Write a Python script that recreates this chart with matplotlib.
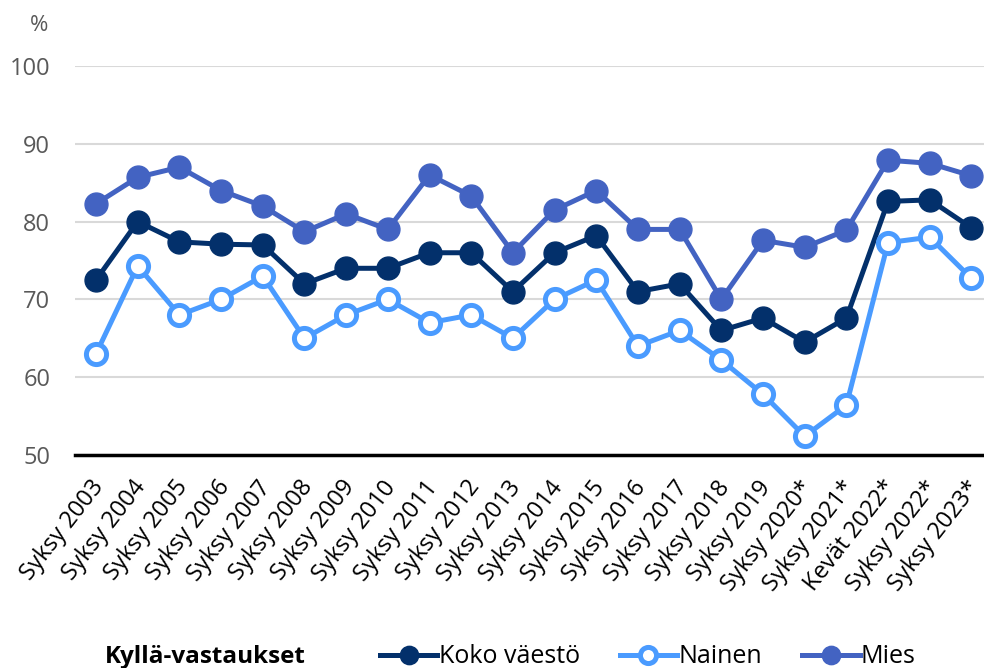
import matplotlib.pyplot as plt
import matplotlib.transforms as mtransforms

plt.rcParams['font.family'] = ['Open Sans', 'DejaVu Sans']

kaudet = ['Syksy 2003', 'Syksy 2004', 'Syksy 2005', 'Syksy 2006', 'Syksy 2007',
          'Syksy 2008', 'Syksy 2009', 'Syksy 2010', 'Syksy 2011', 'Syksy 2012',
          'Syksy 2013', 'Syksy 2014', 'Syksy 2015', 'Syksy 2016', 'Syksy 2017',
          'Syksy 2018', 'Syksy 2019', 'Syksy 2020*', 'Syksy 2021*', 'Kevät 2022*',
          'Syksy 2022*', 'Syksy 2023*']

koko = [72.5, 80, 77.4, 77.1, 77, 72, 74, 74, 76, 76, 71, 76, 78.2, 71, 72,
        66, 67.6, 64.5, 67.6, 82.6, 82.8, 79.2]
nainen = [63, 74.3, 68, 70, 73, 65, 68, 70, 67, 68, 65, 70, 72.5, 64, 66,
          62.2, 57.8, 52.4, 56.4, 77.3, 78, 72.7]
mies = [82.3, 85.7, 87, 84, 82, 78.7, 81, 79, 86, 83.3, 76, 81.5, 84, 79, 79,
        70, 77.6, 76.7, 78.9, 87.9, 87.5, 85.9]

x = range(len(kaudet))

fig = plt.figure(figsize=(9.84, 6.68), dpi=100)
ax = fig.add_axes([0.0764, 0.319, 0.932, 0.582])

ax.plot(x, koko, color='#03306B', lw=3.6, marker='o', ms=16.5, label='Koko väestö', zorder=3)
ax.plot(x, nainen, color='#4A9BFF', lw=3.6, marker='o', ms=14.5, mfc='white',
        mec='#4A9BFF', mew=3.6, label='Nainen', zorder=3)
ax.plot(x, mies, color='#4363C2', lw=3.6, marker='o', ms=16.5, label='Mies', zorder=3)

ax.set_xlim(-0.5, len(kaudet) - 0.5)
ax.set_ylim(50, 100)
ax.set_yticks(range(50, 101, 10))
ax.yaxis.grid(True, color='#d9d9d9', lw=1.5)
ax.set_axisbelow(True)
for s in ['top', 'right', 'left']:
    ax.spines[s].set_visible(False)
ax.spines['bottom'].set_linewidth(2.5)
ax.spines['bottom'].set_color('black')
ax.tick_params(axis='y', length=0, labelsize=17, labelcolor='#595959', pad=18)
ax.tick_params(axis='x', length=0, labelsize=17, pad=14)
ax.set_xticks(list(x))
ax.set_xticklabels(kaudet, rotation=52, ha='right', va='center', rotation_mode='anchor')
# siirretään tekstejä hieman oikealle ja alas
siirto = mtransforms.ScaledTranslation(4 / 100, -9 / 100, fig.dpi_scale_trans)
for lbl in ax.get_xticklabels():
    lbl.set_transform(lbl.get_transform() + siirto)

fig.text(0.04, 0.962, '%', fontsize=16, color='#595959', ha='center', va='center')
fig.text(0.107, 0.0165, 'Kyllä-vastaukset', fontsize=17.5, fontweight='bold', va='center')
fig.legend(loc='center left', bbox_to_anchor=(0.386, 0.0165), ncol=3, frameon=False,
           fontsize=18, handlelength=2.3, columnspacing=1.6, handletextpad=0.05,
           borderpad=0, borderaxespad=0, markerscale=0.8)

fig.savefig('out.png', dpi=100)
